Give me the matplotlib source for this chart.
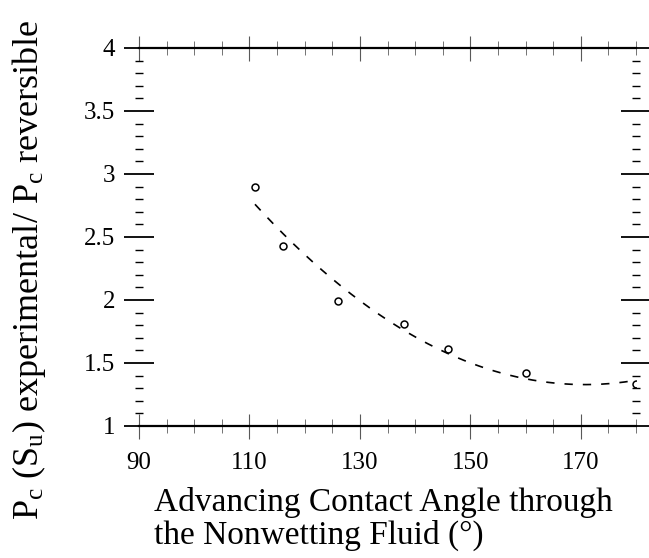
import numpy as np
import matplotlib
matplotlib.use("Agg")
import matplotlib.pyplot as plt
from matplotlib.ticker import MultipleLocator

plt.rcParams['font.family'] = ['Liberation Serif', 'DejaVu Serif']
plt.rcParams['mathtext.fontset'] = 'custom'
plt.rcParams['mathtext.rm'] = 'Liberation Serif'
plt.rcParams['mathtext.it'] = 'Liberation Serif:italic'

# data
angle = [111, 116, 126, 138, 146, 160, 180]
pc_ratio = [2.90, 2.43, 1.99, 1.81, 1.61, 1.42, 1.33]

xticks = [90, 110, 130, 150, 170]
yticks = [1, 1.5, 2, 2.5, 3, 3.5, 4]
ytick_labels = ['1', '1.5', '2', '2.5', '3', '3.5', '4']

# quadratic trend through the measurements
coef = np.polyfit(angle, pc_ratio, 2)
xfit = np.linspace(min(angle), max(angle), 200)
yfit = np.polyval(coef, xfit)

fig = plt.figure(figsize=(6.49, 5.58), dpi=100)
ax = fig.add_axes([0.2142, 0.2366, 0.7658, 0.6774])

ax.plot(xfit, yfit, color='black', lw=1.2, dashes=(5, 6))
ax.plot(angle, pc_ratio, 'o', mfc='none', mec='black', ms=5, mew=1.1)

ax.set_xlim(90, 180)
ax.set_ylim(1, 4)
ax.set_xticks(xticks)
ax.set_yticks(yticks)
ax.set_yticklabels(ytick_labels)
ax.xaxis.set_minor_locator(MultipleLocator(5))
ax.yaxis.set_minor_locator(MultipleLocator(0.1))

ax.spines['left'].set_visible(False)
ax.spines['right'].set_visible(False)
ax.spines['top'].set_linewidth(1.6)
ax.spines['bottom'].set_linewidth(1.6)

# y ticks: solid crossing marks
ax.tick_params(axis='y', which='major', direction='inout', length=22, width=1.3,
               right=True, labelsize=18, pad=6)
ax.tick_params(axis='y', which='minor', direction='inout', length=6, width=1.0,
               right=True)
# x ticks: thin broken-looking marks
ax.tick_params(axis='x', which='major', direction='inout', length=18, width=0.8,
               color='0.35', top=True, labelsize=18, pad=10)
ax.tick_params(axis='x', which='minor', direction='inout', length=10, width=0.7,
               color='0.45', top=True)

fig.text(0.045, 0.516,
         r'P$_\mathrm{c}$ (S$_\mathrm{u}$) experimental/ P$_\mathrm{c}$ reversible',
         fontsize=26, rotation=90, ha='center', va='center')
fig.text(0.238, 0.012, 'Advancing Contact Angle through\nthe Nonwetting Fluid (°)',
         fontsize=24, ha='left', va='bottom', linespacing=1.08)

fig.savefig('out.png', dpi=100)
